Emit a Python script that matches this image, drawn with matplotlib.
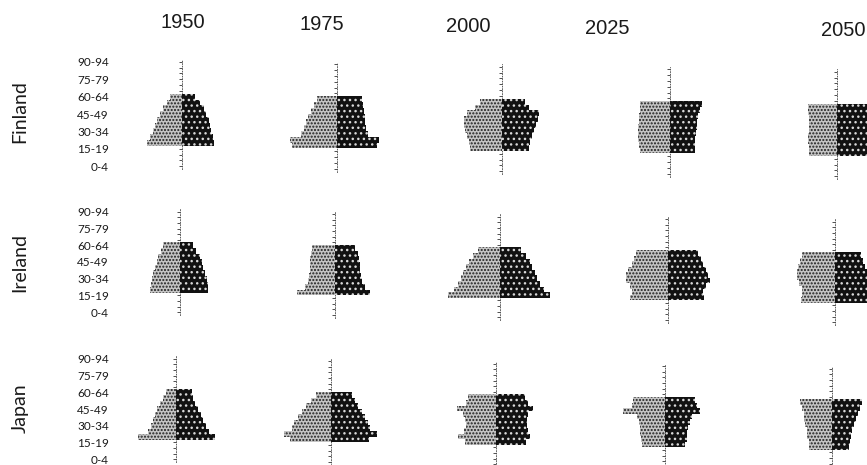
import numpy as np
import matplotlib.pyplot as plt

years = ['1950', '1975', '2000', '2025', '2050']
countries = ['Finland', 'Ireland', 'Japan']
tick_labels = ['0-4', '15-19', '30-34', '45-49', '60-64', '75-79', '90-94']

# share of population (%) by 5-year group, 20-24 up to 60-64
finland_male = [
    [3.5, 3.2, 2.9, 2.7, 2.5, 2.2, 1.9, 1.5, 1.2],
    [4.5, 4.7, 3.6, 3.3, 3.1, 2.9, 2.6, 2.3, 2.0],
    [3.2, 3.3, 3.5, 3.7, 3.8, 3.8, 3.5, 2.7, 2.2],
    [3.0, 3.1, 3.2, 3.2, 3.2, 3.1, 3.1, 3.0, 3.0],
    [2.8, 2.8, 2.9, 2.9, 2.8, 2.8, 2.8, 2.9, 2.9],
]
finland_female = [
    [3.2, 3.1, 2.9, 2.8, 2.7, 2.4, 2.2, 1.8, 1.3],
    [4.0, 4.2, 3.1, 2.9, 2.8, 2.8, 2.7, 2.6, 2.5],
    [2.7, 2.8, 3.0, 3.2, 3.4, 3.6, 3.7, 2.7, 2.3],
    [2.5, 2.5, 2.5, 2.6, 2.7, 2.7, 2.8, 3.0, 3.2],
    [3.0, 3.0, 3.0, 3.1, 3.1, 3.0, 3.0, 3.0, 3.0],
]
ireland_male = [
    [3.0, 2.9, 2.8, 2.7, 2.5, 2.3, 2.2, 1.9, 1.7],
    [3.8, 3.0, 2.7, 2.6, 2.5, 2.5, 2.5, 2.4, 2.3],
    [5.2, 4.6, 4.2, 3.9, 3.7, 3.4, 3.1, 2.7, 2.2],
    [3.8, 3.6, 3.8, 4.2, 4.2, 4.0, 3.6, 3.4, 3.2],
    [3.4, 3.3, 3.3, 3.6, 3.8, 3.8, 3.7, 3.5, 3.3],
]
ireland_female = [
    [2.8, 2.8, 2.7, 2.5, 2.3, 2.2, 2.0, 1.6, 1.3],
    [3.5, 3.0, 2.7, 2.6, 2.5, 2.5, 2.4, 2.3, 2.0],
    [5.0, 4.4, 4.0, 3.7, 3.5, 3.2, 3.0, 2.6, 2.1],
    [3.6, 3.5, 3.8, 4.2, 4.0, 3.8, 3.5, 3.3, 3.0],
    [3.2, 3.2, 3.2, 3.2, 3.3, 3.2, 3.0, 2.8, 2.6],
]
japan_male = [
    [3.8, 2.8, 2.5, 2.3, 2.1, 1.9, 1.6, 1.3, 1.0],
    [4.1, 4.7, 3.9, 3.7, 3.3, 2.9, 2.5, 2.0, 1.5],
    [3.1, 3.8, 3.2, 3.0, 3.1, 3.3, 3.9, 3.0, 2.8],
    [2.3, 2.4, 2.5, 2.5, 2.6, 2.8, 4.2, 3.3, 3.2],
    [2.3, 2.3, 2.5, 2.5, 2.7, 2.8, 2.8, 3.0, 3.2],
]
japan_female = [
    [3.9, 3.3, 3.0, 2.7, 2.5, 2.2, 1.9, 1.7, 1.6],
    [3.8, 4.6, 3.9, 3.7, 3.4, 3.1, 2.7, 2.4, 2.1],
    [3.0, 3.4, 3.2, 3.1, 3.1, 3.2, 3.7, 3.2, 2.9],
    [2.0, 2.2, 2.2, 2.3, 2.5, 2.7, 3.5, 3.2, 3.0],
    [1.7, 1.8, 1.9, 2.0, 2.2, 2.4, 2.6, 2.8, 3.0],
]

male = {'Finland': finland_male, 'Ireland': ireland_male, 'Japan': japan_male}
female = {'Finland': finland_female, 'Ireland': ireland_female, 'Japan': japan_female}

groups = np.arange(4, 13)      # 20-24 .. 60-64 on the 0-4 .. 90-94 scale

W, H = 867, 465
fig = plt.figure(figsize=(W / 100, H / 100), dpi=100)

# panel layout in pixels
col_x = {'Finland': [182, 337, 502, 670, 837],
         'Ireland': [180, 335, 500, 668, 835],
         'Japan': [176, 331, 496, 665, 832]}
row_top = {'Finland': 59, 'Ireland': 209, 'Japan': 356}
row_bot = {'Finland': 169, 'Ireland': 315, 'Japan': 462}
row_mid = {'Finland': 112, 'Ireland': 262, 'Japan': 408}
skew = 2.5
pw = 140
half = 7.0

title_pos = [(183, 22), (322, 24), (468, 27), (607, 29), (843, 31)]
for yr, (tx, ty) in zip(years, title_pos):
    fig.text(tx / W, 1 - ty / H, yr, ha='center', va='center',
             fontsize=14.5, color='#1a1a1a', family='Liberation Sans')

for country in countries:
    fig.text(20 / W, 1 - row_mid[country] / H, country, rotation=90,
             ha='center', va='center', fontsize=14, color='#1a1a1a', family='Lato')
    for j in range(len(years)):
        cx = col_x[country][j]
        top = row_top[country] + skew * j
        bot = row_bot[country] + skew * j
        ax = fig.add_axes([(cx - pw / 2) / W, 1 - bot / H, pw / W, (bot - top) / H])
        ax.set_xlim(-half, half)
        ax.set_ylim(-0.5, 18.5)
        ax.patch.set_alpha(0)

        ax.barh(groups, -np.array(male[country][j]), height=1.0, color='#c4c4c4',
                edgecolor='#1e1e1e', hatch='.....', linewidth=0, zorder=3)
        ax.barh(groups, female[country][j], height=1.0, color='#111111',
                edgecolor='#d8d8d8', hatch='...', linewidth=0, zorder=3)

        for s in ['top', 'right', 'bottom']:
            ax.spines[s].set_visible(False)
        ax.spines['left'].set_position(('data', 0))
        ax.spines['left'].set_linestyle((0, (1, 2)))
        ax.spines['left'].set_linewidth(0.6)
        ax.spines['left'].set_color('#444444')
        ax.set_xticks([])
        ax.set_yticks(np.arange(0, 19, 3))
        ax.set_yticks(np.arange(0, 19), minor=True)
        ax.tick_params(axis='y', which='both', direction='out', length=2.5,
                       width=0.6, color='#333333')
        if j == 0:
            ax.set_yticklabels(tick_labels, fontsize=8.5, color='#1a1a1a', family='Lato')
            ax.tick_params(axis='y', pad=(cx - 109) * 0.72 - 2.5)
        else:
            ax.set_yticklabels([])

fig.savefig('out.png', dpi=100)
